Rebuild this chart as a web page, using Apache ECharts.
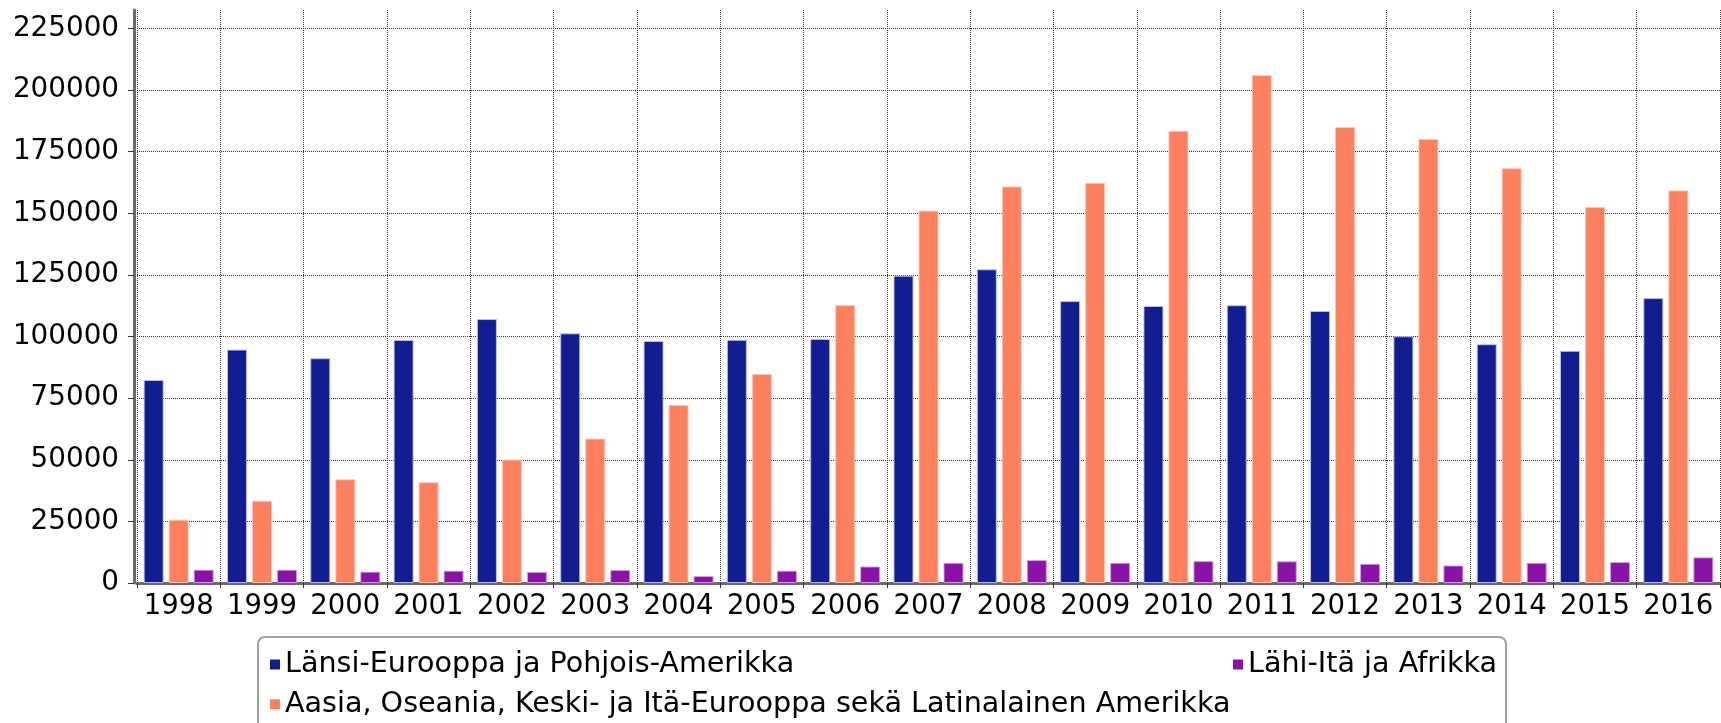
<!DOCTYPE html>
<html>
<head>
<meta charset="utf-8">
<script src="https://cdn.jsdelivr.net/npm/echarts@6/dist/echarts.min.js"></script>
<style>
html,body{margin:0;padding:0;background:#fff;}
#c{width:1721px;height:723px;}
</style>
</head>
<body>
<div id="c"></div>
<script>
const years = ['1998','1999','2000','2001','2002','2003','2004','2005','2006','2007','2008','2009','2010','2011','2012','2013','2014','2015','2016'];
const nameWest = 'Länsi-Eurooppa ja Pohjois-Amerikka';
const nameAsia = 'Aasia, Oseania, Keski- ja Itä-Eurooppa sekä Latinalainen Amerikka';
const nameMena = 'Lähi-Itä ja Afrikka';
const westValues = [82400, 94700, 91200, 98600, 107100, 101300, 98200, 98700, 99000, 124700, 127300, 114400, 112400, 112700, 110400, 100100, 96900, 94200, 115600];
const asiaValues = [25700, 33400, 42100, 40900, 50100, 58600, 72200, 84800, 112800, 151100, 160900, 162400, 183500, 206100, 185000, 180200, 168300, 152600, 159300];
const menaValues = [5400, 5400, 4600, 5000, 4500, 5300, 2800, 5000, 6700, 8200, 9300, 8200, 8900, 8800, 7800, 7100, 8200, 8500, 10400];
const yTicks = [25000, 50000, 75000, 100000, 125000, 150000, 175000, 200000, 225000];

const FONT = 'DejaVu Sans';
const chart = echarts.init(document.getElementById('c'));
const barBase = {
  type: 'bar',
  barWidth: 20,
  barGap: '25%',
  barCategoryGap: '16%'
};
const legendText = { color: '#000', fontSize: 28.6, lineHeight: 28, fontFamily: FONT };
chart.setOption({
  animation: false,
  backgroundColor: '#ffffff',
  textStyle: { fontFamily: FONT },
  grid: { left: 137, right: 1, top: 10, bottom: 140 },
  xAxis: {
    type: 'category',
    data: years,
    boundaryGap: true,
    axisLine: { show: true, lineStyle: { color: '#6a6a6a', width: 3 } },
    axisTick: { show: true, length: 5, lineStyle: { color: '#333' } },
    axisLabel: { color: '#000', fontSize: 27.5, fontFamily: FONT, margin: 10, interval: 0 },
    splitLine: { show: true, lineStyle: { type: 'dotted', color: '#333', width: 1 } }
  },
  yAxis: {
    type: 'value',
    min: 0,
    max: 232500,
    interval: 25000,
    offset: 3,
    axisLine: { show: true, lineStyle: { color: '#6a6a6a', width: 3 } },
    axisTick: { show: true, length: 6, lineStyle: { color: '#333' } },
    axisLabel: { color: '#000', fontSize: 27.8, fontFamily: FONT, margin: 15, showMaxLabel: false, formatter: v => String(v) },
    splitLine: { show: false }
  },
  legend: [
    {
      orient: 'vertical',
      left: 270, top: 650, height: 72,
      padding: 0,
      itemWidth: 10, itemHeight: 10, itemGap: 10.7,
      icon: 'rect',
      itemStyle: { borderWidth: 0 },
      textStyle: legendText,
      data: [nameWest, nameAsia]
    },
    {
      orient: 'vertical',
      left: 1233, top: 650,
      padding: 0,
      itemWidth: 10, itemHeight: 10,
      icon: 'rect',
      itemStyle: { borderWidth: 0 },
      textStyle: legendText,
      data: [nameMena]
    }
  ],
  graphic: [
    {
      type: 'rect',
      shape: { x: 258, y: 637, width: 1248, height: 110, r: 7 },
      style: { fill: 'none', stroke: '#a0a0a0', lineWidth: 2 },
      silent: true
    }
  ],
  series: [
    Object.assign({}, barBase, {
      name: nameWest,
      data: westValues,
      itemStyle: { color: '#131d92', borderColor: 'rgba(190,195,235,0.9)', borderWidth: 1 },
      markLine: {
        silent: true,
        symbol: 'none',
        z: 1,
        label: { show: false },
        lineStyle: { type: 'dotted', color: '#333', width: 1 },
        data: yTicks.map(v => ({ yAxis: v }))
      }
    }),
    Object.assign({}, barBase, {
      name: nameAsia,
      data: asiaValues,
      itemStyle: { color: '#ff805f', borderColor: 'rgba(255,200,185,0.9)', borderWidth: 1 }
    }),
    Object.assign({}, barBase, {
      name: nameMena,
      data: menaValues,
      itemStyle: { color: '#8b12a6', borderColor: 'rgba(210,160,225,0.9)', borderWidth: 1 }
    })
  ]
});
</script>
</body>
</html>
